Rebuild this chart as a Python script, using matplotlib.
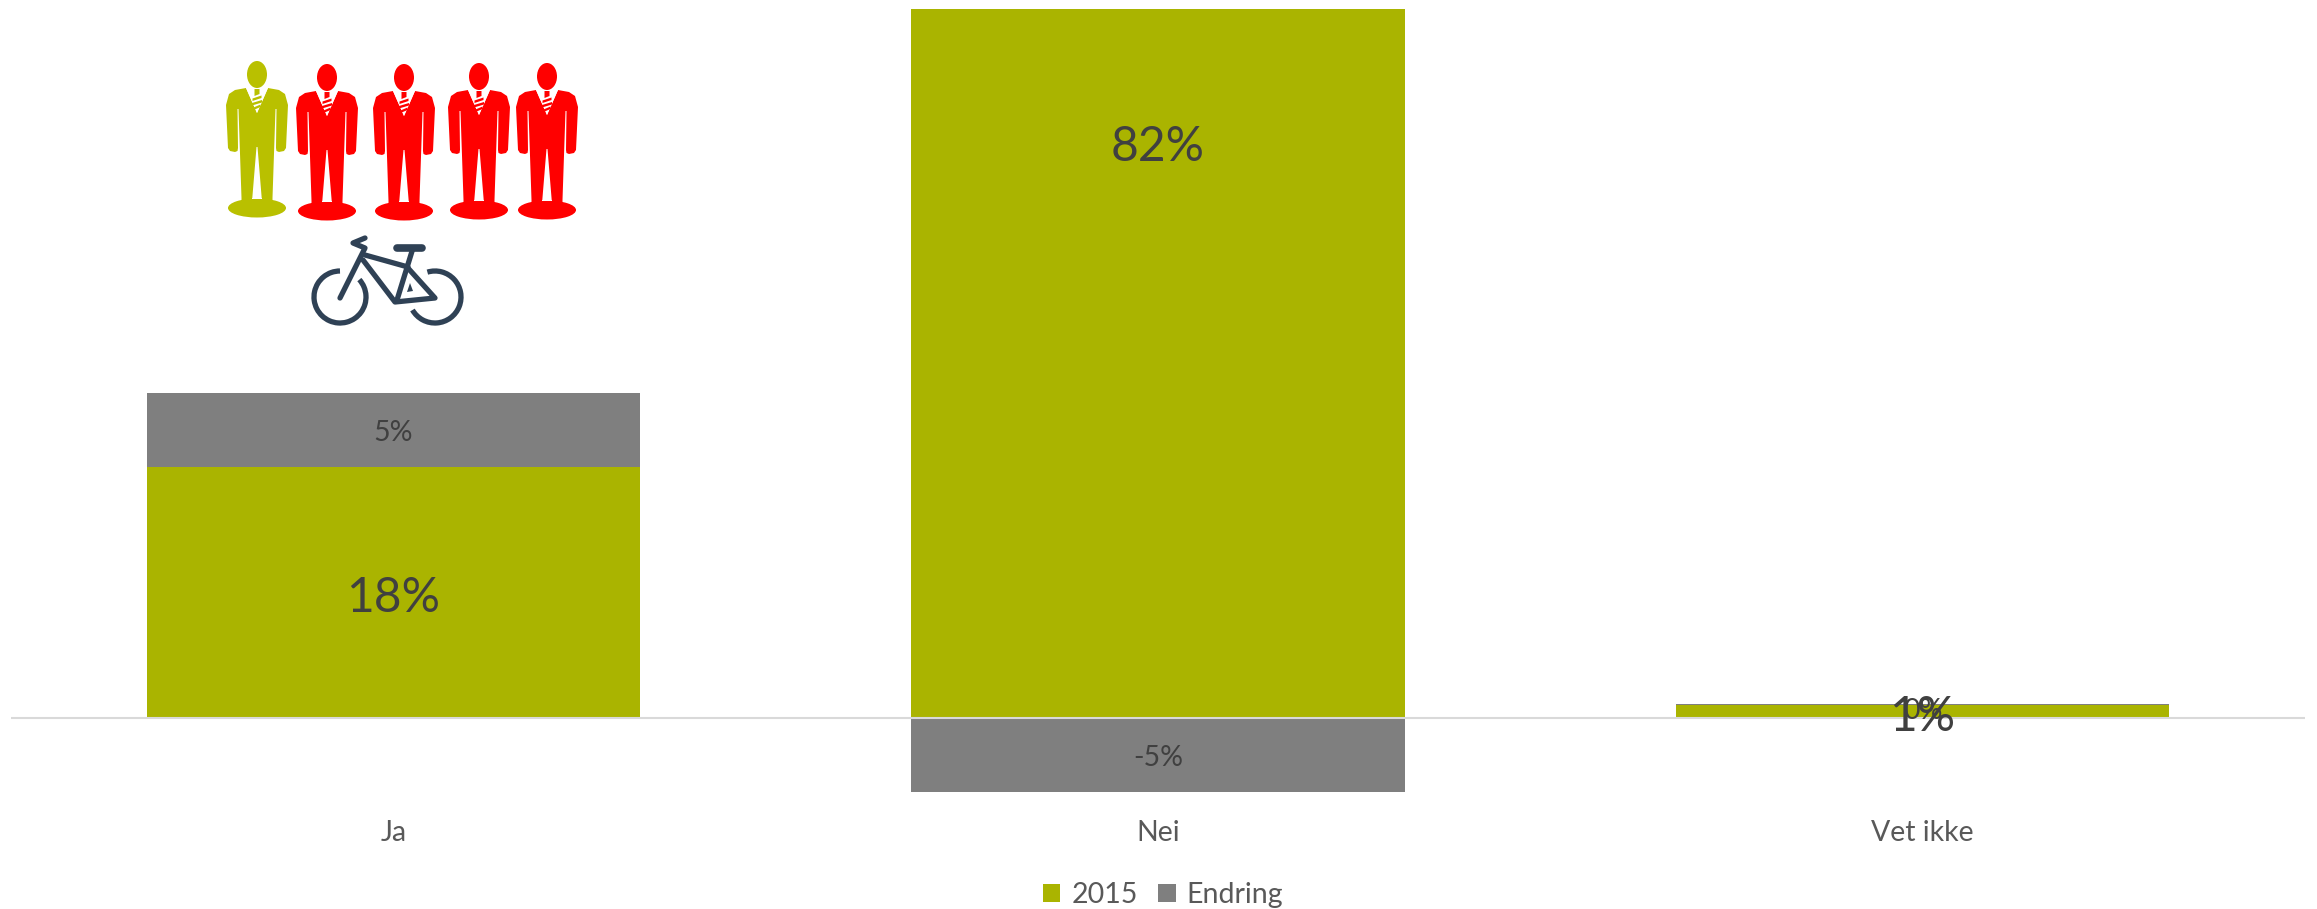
import matplotlib
matplotlib.use("Agg")
import matplotlib.pyplot as plt
from matplotlib.patches import Ellipse, Polygon, Arc

categories = ["Ja", "Nei", "Vet ikke"]
values_2015 = [17.7, 82, 0.9]
values_endring = [5.2, -5.2, 0.1]
labels_2015 = ["18%", "82%", "1%"]
labels_endring = ["5%", "-5%", "0%"]
series_names = ["2015", "Endring"]

GREEN = "#AAB400"
GRAY = "#7F7F7F"
W, H = 2317, 909
plt.rcParams["font.family"] = ["Lato", "DejaVu Sans"]

fig = plt.figure(figsize=(W / 100, H / 100), dpi=100)
left, right, top, bottom = 11, 2305, 9, 803
ax = fig.add_axes([left / W, 1 - bottom / H, (right - left) / W, (bottom - top) / H])
x = list(range(len(categories)))
bw = 0.645
bars1 = ax.bar(x, values_2015, bw, color=GREEN, label=series_names[0], zorder=2)
bottoms = [v if e > 0 else 0 for v, e in zip(values_2015, values_endring)]
bars2 = ax.bar(x, values_endring, bw, bottom=bottoms, color=GRAY, label=series_names[1], zorder=2)
ax.set_xlim(-0.5, 2.5)
ax.set_ylim(-6, 50)
for s in ax.spines.values():
    s.set_visible(False)
ax.set_yticks([])
ax.tick_params(axis="x", length=0, pad=0)
ax.set_xticks(x)
ax.set_xticklabels([])
ax.axhline(0, color="#D9D9D9", lw=1.5, zorder=3)
TXT = "#404040"
CAT = "#595959"
for i, (v, e) in enumerate(zip(values_2015, values_endring)):
    if v > 50:
        ymid = 50 * 0.805
    elif v < 5:
        ymid = 0.1
    else:
        ymid = v * 0.5 - 0.4
    ax.text(i - 0.001, ymid, labels_2015[i], ha="center", va="center", fontsize=34.5, color=TXT, zorder=5)
    if e > 0.5:
        ey = v + e / 2 - 0.2
    elif e < -0.5:
        ey = e / 2 - 0.25
    else:
        ey = 0.5
    ax.text(i, ey, labels_endring[i], ha="center", va="center", fontsize=20.5, color=TXT, zorder=5)
    ax.text(i, -8.1, categories[i], ha="center", va="center", fontsize=20.5, color=CAT, clip_on=False)

fig.legend(handles=[bars1, bars2], labels=series_names, loc="center", bbox_to_anchor=(1163 / W, 1 - 895 / H),
           ncol=2, frameon=False, fontsize=20.5, labelcolor=CAT, handlelength=0.62, handleheight=0.62,
           handletextpad=0.38, columnspacing=0.72, borderpad=0)

# pictogram overlay in pixel coordinates (y down)
ov = fig.add_axes([0, 0, 1, 1])
ov.set_xlim(0, W)
ov.set_ylim(H, 0)
ov.axis("off")
ov.patch.set_alpha(0)


def person(cx, ty, color):
    """suit figure: cx centre, ty top of head"""
    def P(dx, dy):
        return (cx + dx, ty + dy)
    ov.add_patch(Ellipse(P(0, 13.5), 20, 27, color=color, lw=0))
    ov.add_patch(Ellipse(P(0, 147), 58, 19, color=color, lw=0))
    body = [(-11, 27), (-22, 29), (-28, 33), (-31, 44), (-29, 87), (-27, 90), (-22, 91), (-19.5, 90), (-19, 87),
            (-19.5, 48), (-18.5, 48), (-15.5, 137), (-15.5, 144), (-4.7, 144), (-4.7, 137), (-0.5, 86), (0.5, 86),
            (4.7, 137), (4.7, 144), (15.5, 144), (15.5, 137),
            (18.5, 48), (19.5, 48), (19, 87), (19.5, 90), (22, 91), (27, 90), (29, 87), (31, 44), (28, 33),
            (22, 29), (11, 27), (0, 52)]
    ov.add_patch(Polygon([P(*q) for q in body], closed=True, color=color, lw=0))
    ov.add_patch(Polygon([P(-4.7, 137), P(4.7, 137), P(4.7, 137.8), P(-4.7, 137.8)], closed=True, color="white", lw=0))
    ov.add_patch(Polygon([P(-11, 27), P(11, 27), P(0, 52)], closed=True, color="white", lw=0))
    ov.add_patch(Polygon([P(-2.5, 28), P(2.5, 28), P(2.5, 33), P(-2.5, 35)], closed=True, color=color, lw=0))
    for y0, w in zip((36, 40.5, 45), (4.5, 5, 3.5)):
        ov.add_patch(Polygon([P(-w, y0 + 1.5), P(w, y0 - 1.5), P(w, y0 + 1), P(-w, y0 + 4)],
                             closed=True, color=color, lw=0))


person_x = [257, 327, 404, 479, 547]
person_top = [61, 64, 64, 63, 63]
person_col = ["#B9C000", "#FF0000", "#FF0000", "#FF0000", "#FF0000"]
for px, pt, pc in zip(person_x, person_top, person_col):
    person(px, pt, pc)

BK = "#2F4155"
lw = 3.8
kw = dict(color=BK, lw=lw, solid_capstyle="round", solid_joinstyle="round")
ov.add_patch(Arc((340, 297), 52, 52, theta1=-42, theta2=270, color=BK, lw=lw))
ov.add_patch(Arc((435, 297), 52, 52, theta1=-107, theta2=150, color=BK, lw=lw))
ov.plot([340, 365, 353, 365], [298, 248, 243, 238], **kw)
ov.plot([365, 408], [255, 267], **kw)
ov.plot([363, 395, 435, 407], [260, 302, 298, 267], **kw)
ov.plot([397, 413], [300, 248], **kw)
ov.plot([397, 422], [248, 248], color=BK, lw=5.5, solid_capstyle="round")
ov.add_patch(Polygon([(407, 292), (410, 283), (413, 291)], closed=True, color=BK, lw=0))

fig.savefig("out.png", dpi=100)
